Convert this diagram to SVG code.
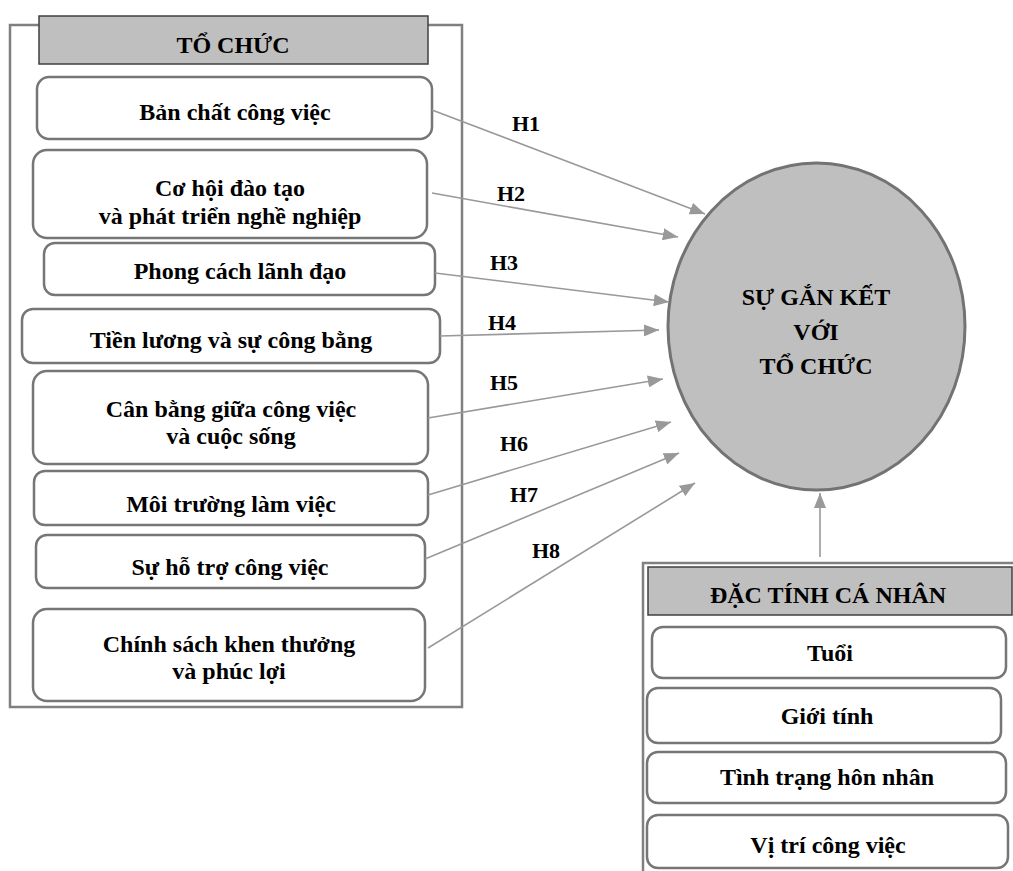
<svg xmlns="http://www.w3.org/2000/svg" width="1013" height="871" viewBox="0 0 1013 871">
<style>
.t{font-family:'Liberation Serif','Times New Roman',serif;font-weight:bold;font-size:24px;fill:#000;text-anchor:middle}
.h{font-size:22px}
.box{fill:#fff;stroke:#767676;stroke-width:2.5}
.hdr{fill:#bfbfbf;stroke:#404040;stroke-width:1.5}
.cont{fill:#fff;stroke:#808080;stroke-width:2.5}
.conn line{stroke:#999;stroke-width:1.6;marker-end:url(#ah)}
</style>
<defs>
<marker id="ah" viewBox="0 0 10 8" refX="10" refY="4" markerWidth="9.5" markerHeight="7.6" markerUnits="strokeWidth" orient="auto">
<path d="M0,0 L10,4 L0,8 z" fill="#999"/>
</marker>
</defs>
<g font-family="Liberation Serif, serif" font-weight="bold" font-size="24" text-anchor="middle">
<rect class="cont" x="10" y="25" width="452" height="682"/>
<g id="hdr-tochuc"><rect class="hdr" x="39" y="16" width="389" height="48"/><text class="t" x="233" y="53">TỔ CHỨC</text></g>
<g id="n1"><rect class="box" x="37" y="77" width="395" height="62" rx="12"/><text class="t" x="235" y="120">Bản chất công việc</text></g>
<g id="n2"><rect class="box" x="33" y="150" width="394" height="88" rx="14"/><text class="t" x="230" y="196">Cơ hội đào tạo</text><text class="t" x="230" y="224">và phát triển nghề nghiệp</text></g>
<g id="n3"><rect class="box" x="44" y="243" width="391" height="52" rx="11"/><text class="t" x="240" y="279">Phong cách lãnh đạo</text></g>
<g id="n4"><rect class="box" x="22" y="309" width="418" height="54" rx="11"/><text class="t" x="231" y="348">Tiền lương và sự công bằng</text></g>
<g id="n5"><rect class="box" x="33" y="371" width="395" height="93" rx="14"/><text class="t" x="231" y="417">Cân bằng giữa công việc</text><text class="t" x="231" y="444">và cuộc sống</text></g>
<g id="n6"><rect class="box" x="34" y="471" width="394" height="54" rx="11"/><text class="t" x="231" y="512">Môi trường làm việc</text></g>
<g id="n7"><rect class="box" x="36" y="535" width="389" height="53" rx="11"/><text class="t" x="230" y="575">Sự hỗ trợ công việc</text></g>
<g id="n8"><rect class="box" x="33" y="609" width="392" height="92" rx="14"/><text class="t" x="229" y="652">Chính sách khen thưởng</text><text class="t" x="229" y="679">và phúc lợi</text></g>
<g id="target"><ellipse cx="816.5" cy="326.5" rx="148.5" ry="163.5" fill="#bfbfbf" stroke="#737373" stroke-width="3"/><text class="t" x="816" y="305">SỰ GẮN KẾT</text><text class="t" x="816" y="340">VỚI</text><text class="t" x="816" y="374">TỔ CHỨC</text></g>
<rect class="cont" x="643" y="563" width="400" height="400"/>
<g id="hdr-canhan"><rect class="hdr" x="648" y="567" width="364" height="48"/><text class="t" x="828" y="603">ĐẶC TÍNH CÁ NHÂN</text></g>
<g id="p1"><rect class="box" x="652" y="627" width="354" height="51" rx="11"/><text class="t" x="830" y="661">Tuổi</text></g>
<g id="p2"><rect class="box" x="647" y="688" width="354" height="55" rx="11"/><text class="t" x="827" y="724">Giới tính</text></g>
<g id="p3"><rect class="box" x="647" y="752" width="359" height="51" rx="11"/><text class="t" x="827" y="785">Tình trạng hôn nhân</text></g>
<g id="p4"><rect class="box" x="647" y="815" width="361" height="53" rx="11"/><text class="t" x="828" y="853">Vị trí công việc</text></g>
<g class="conn" id="connectors">
<line x1="432" y1="110" x2="705" y2="214"/>
<line x1="432" y1="193" x2="678" y2="237"/>
<line x1="435" y1="273" x2="669" y2="302"/>
<line x1="440" y1="336" x2="659" y2="330"/>
<line x1="428" y1="418" x2="663" y2="379"/>
<line x1="428" y1="495" x2="671" y2="422"/>
<line x1="425" y1="559" x2="679" y2="453"/>
<line x1="428" y1="648" x2="695" y2="483"/>
<line x1="820" y1="557" x2="820" y2="493"/>
</g>
<g id="labels">
<text class="t h" x="526" y="131">H1</text>
<text class="t h" x="511" y="201">H2</text>
<text class="t h" x="504" y="270">H3</text>
<text class="t h" x="502" y="330">H4</text>
<text class="t h" x="504" y="390">H5</text>
<text class="t h" x="514" y="451">H6</text>
<text class="t h" x="524" y="502">H7</text>
<text class="t h" x="546" y="558">H8</text>
</g>
</g>
</svg>
